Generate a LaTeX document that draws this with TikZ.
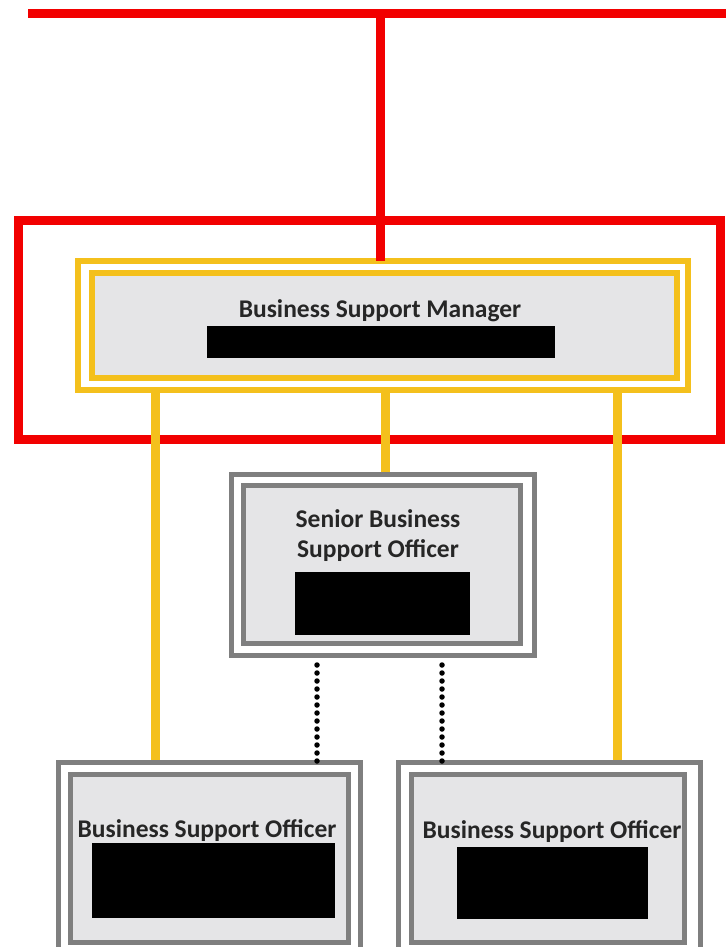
\documentclass[tikz,border=0pt]{standalone}
\usepackage{fontspec}
\setmainfont{Carlito}
\definecolor{redline}{HTML}{F20000}
\definecolor{gold}{HTML}{F4C01C}
\definecolor{boxgray}{HTML}{7F7F7F}
\definecolor{boxfill}{HTML}{E5E5E7}
\definecolor{txt}{HTML}{262626}
\begin{document}
\begin{tikzpicture}[x=1pt,y=-1pt,
  redl/.style={draw=redline,line width=9pt},
  goldl/.style={draw=gold,line width=9pt},
  goldframe/.style={draw=gold,line width=5.5pt},
  grayframe/.style={draw=boxgray,line width=5pt},
  inner/.style={rectangle,fill=boxfill,inner sep=0pt,minimum width=#1},
  label/.style={font=\fontsize{25.5}{30}\selectfont\bfseries,text=txt,inner sep=0pt,align=center},
  redact/.style={fill=black,inner sep=0pt},
  dotl/.style={draw=black,line width=5.5pt,line cap=round,dash pattern=on 0pt off 8pt}]
\useasboundingbox (0,0) rectangle (726,947);
% top red line and red frame
\coordinate (tl) at (28,14);
\coordinate (tr) at (726,14);
\coordinate (tj) at (380,14);
\draw[redl] (tl) -- (tr);
\draw[redl] (18,220) rectangle (720,439);
% Manager box
\node[inner=585pt,minimum height=105pt,draw=gold,line width=5.5pt] (mgr) at (384.5,325.5) {};
\draw[goldframe] (78,261) rectangle (688,390);
\coordinate (mgrtop) at (380,261);
\draw[redl] (tj) -- (mgrtop);
\node[label] (mgrt) at (380,311) {Business Support Manager};
\node[redact,minimum width=348pt,minimum height=32pt] (mgrr) at (381,342) {};
% Senior box
\node[inner=277pt,minimum height=158pt,draw=boxgray,line width=5pt] (sen) at (381.5,564) {};
\draw[grayframe] (231,474) rectangle (534,655);
\node[label] (sent) at (378,536) {Senior Business\\Support Officer};
\node[redact,minimum width=175pt,minimum height=63pt] (senr) at (382.5,603.5) {};
% BSO left
\node[inner=278pt,minimum height=168pt,draw=boxgray,line width=5pt] (bl) at (209,858) {};
\draw[grayframe] (58,960) -- (58,762) -- (360,762) -- (360,960);
\node[label] (blt) at (207,831) {Business Support Officer};
\node[redact,minimum width=243pt,minimum height=75pt] (blr) at (213.5,880.5) {};
% BSO right
\node[inner=273pt,minimum height=168pt,draw=boxgray,line width=5pt] (br) at (547.5,858) {};
\draw[grayframe] (398,960) -- (398,762) -- (700,762) -- (700,960);
\node[label] (brt) at (552,832) {Business Support Officer};
\node[redact,minimum width=191pt,minimum height=72pt] (brr) at (552.5,883) {};
% gold connectors
\coordinate (g1a) at (155,393);
\coordinate (g1b) at (155,760);
\coordinate (g2a) at (385,393);
\coordinate (g2b) at (385,472);
\coordinate (g3a) at (617,393);
\coordinate (g3b) at (617,760);
\draw[goldl] (g1a) -- (g1b);
\draw[goldl] (g2a) -- (g2b);
\draw[goldl] (g3a) -- (g3b);
% dotted connectors
\coordinate (d1a) at (317,665);
\coordinate (d1b) at (317,761);
\coordinate (d2a) at (442,665);
\coordinate (d2b) at (442,761);
\draw[dotl] (d1a) -- (d1b);
\draw[dotl] (d2a) -- (d2b);
\end{tikzpicture}
\end{document}
